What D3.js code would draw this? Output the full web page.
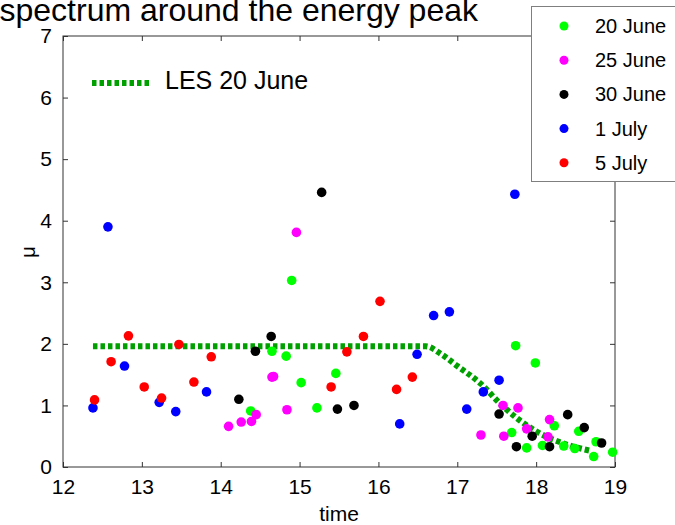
<!DOCTYPE html>
<html>
<head>
<meta charset="utf-8">
<script src="https://cdn.jsdelivr.net/npm/d3@7"></script>
<style>
  body { margin: 0; background: #fff; }
  svg { display: block; font-family: "Liberation Sans", Arial, sans-serif; }
</style>
</head>
<body>
<div id="chart"></div>
<script>
// series data: [time, mu]
const june20 = [[14.38,0.91],[14.65,1.88],[14.83,1.80],[14.90,3.03],[15.02,1.37],[15.22,0.96],[15.46,1.52],
  [17.69,0.56],[17.74,1.97],[17.88,0.31],[17.99,1.69],[18.08,0.35],[18.23,0.67],[18.35,0.34],[18.49,0.30],
  [18.54,0.58],[18.73,0.17],[18.76,0.41],[18.97,0.24]];
const june25 = [[14.10,0.66],[14.26,0.73],[14.39,0.74],[14.45,0.85],[14.65,1.46],[14.67,1.47],[14.84,0.93],
  [14.96,3.81],[17.30,0.52],[17.58,1.00],[17.59,0.50],[17.77,0.96],[17.88,0.62],[18.15,0.49],[18.17,0.77]];
const june30 = [[14.23,1.10],[14.44,1.88],[14.64,2.12],[15.28,4.46],[15.48,0.94],[15.69,1.00],[17.53,0.86],
  [17.75,0.33],[17.95,0.50],[18.17,0.33],[18.40,0.85],[18.61,0.64],[18.83,0.39]];
const july1 = [[12.38,0.96],[12.57,3.90],[12.78,1.64],[13.22,1.05],[13.43,0.90],[13.82,1.22],[16.27,0.70],
  [16.49,1.83],[16.70,2.46],[16.90,2.52],[17.12,0.94],[17.33,1.22],[17.53,1.41],[17.73,4.43]];
const july5 = [[12.40,1.09],[12.61,1.71],[12.83,2.13],[13.03,1.30],[13.25,1.12],[13.47,1.99],[13.66,1.38],
  [13.88,1.79],[15.40,1.30],[15.60,1.87],[15.81,2.12],[16.02,2.69],[16.23,1.26],[16.43,1.46]];

// LES curve
const lesTime = [12.38, 16.6, 16.8, 17.0, 17.3, 17.55, 17.75, 18.0, 18.4, 18.7];
const lesMu   = [1.96, 1.96, 1.83, 1.64, 1.35, 1.02, 0.80, 0.58, 0.36, 0.26];

const seriesNames = ["20 June", "25 June", "30 June", "1 July", "5 July"];
const seriesData = [june20, june25, june30, july1, july5];
const seriesColors = ["#00ff00", "#ff00ff", "#000000", "#0000ff", "#ff0000"];

const xTicks = [12, 13, 14, 15, 16, 17, 18, 19];
const yTicks = [0, 1, 2, 3, 4, 5, 6, 7];

const width = 675, height = 525;
const plotLeft = 63, plotRight = 615, plotTop = 36, plotBottom = 467;

const svg = d3.select("#chart").append("svg")
    .attr("width", width)
    .attr("height", height);

const x = d3.scaleLinear().domain([12, 19]).range([plotLeft, plotRight]);
const y = d3.scaleLinear().domain([0, 7]).range([plotBottom, plotTop]);

const axisColor = "#333";
const intFmt = d3.format("d");

// box + inward ticks on all four sides
function styleAxis(g) {
    g.select(".domain").remove();
    g.selectAll(".tick line").attr("stroke", axisColor);
    g.selectAll(".tick text").attr("fill", "#000").attr("font-size", 21);
}

svg.append("g")
    .attr("transform", `translate(0,${plotBottom})`)
    .call(d3.axisBottom(x).tickValues(xTicks).tickFormat(intFmt).tickSizeInner(-5).tickSizeOuter(0).tickPadding(12))
    .call(styleAxis);

svg.append("g")
    .attr("transform", `translate(0,${plotTop})`)
    .call(d3.axisTop(x).tickValues(xTicks).tickSizeInner(-5).tickSizeOuter(0).tickFormat(""))
    .call(styleAxis);

svg.append("g")
    .attr("transform", `translate(${plotLeft},0)`)
    .call(d3.axisLeft(y).tickValues(yTicks).tickFormat(intFmt).tickSizeInner(-5).tickSizeOuter(0).tickPadding(11))
    .call(styleAxis);

svg.append("g")
    .attr("transform", `translate(${plotRight},0)`)
    .call(d3.axisRight(y).tickValues(yTicks).tickSizeInner(-5).tickSizeOuter(0).tickFormat(""))
    .call(styleAxis);

svg.append("rect")
    .attr("x", plotLeft).attr("y", plotTop)
    .attr("width", plotRight - plotLeft).attr("height", plotBottom - plotTop)
    .attr("fill", "none")
    .attr("stroke", axisColor)
    .attr("stroke-width", 1);

// LES line
const les = lesTime.map((t, i) => [t, lesMu[i]]);
svg.append("path")
    .datum(les)
    .attr("fill", "none")
    .attr("stroke", "#00a000")
    .attr("stroke-width", 6)
    .attr("stroke-dasharray", "4.5,3")
    .attr("d", d3.line().x(d => x(d[0])).y(d => y(d[1])).curve(d3.curveMonotoneX));

// points
seriesData.forEach((data, i) => {
    svg.append("g").selectAll("circle")
        .data(data)
        .enter()
        .append("circle")
        .attr("cx", d => x(d[0]))
        .attr("cy", d => y(d[1]))
        .attr("r", 4.8)
        .attr("fill", seriesColors[i]);
});

// labels
svg.append("text")
    .attr("x", 478).attr("y", 21)
    .attr("text-anchor", "end")
    .attr("font-size", 32)
    .text("spectrum around the energy peak");

svg.append("text")
    .attr("x", (plotLeft + plotRight) / 2).attr("y", 521)
    .attr("text-anchor", "middle")
    .attr("font-size", 21)
    .text("time");

svg.append("text")
    .attr("transform", "translate(35,252) rotate(-90)")
    .attr("text-anchor", "middle")
    .attr("font-size", 20)
    .text("μ");

// LES legend
svg.append("line")
    .attr("x1", 92).attr("x2", 150)
    .attr("y1", 83).attr("y2", 83)
    .attr("stroke", "#00a000")
    .attr("stroke-width", 6)
    .attr("stroke-dasharray", "4.5,3");

svg.append("text")
    .attr("x", 165).attr("y", 89)
    .attr("font-size", 25)
    .text("LES 20 June");

// points legend
const legend = svg.append("g");
legend.append("rect")
    .attr("x", 531.5).attr("y", 6.5)
    .attr("width", 160).attr("height", 175)
    .attr("fill", "#fff")
    .attr("stroke", "#7f7f7f");

seriesNames.forEach((name, i) => {
    const cy = 26 + i * 34.2;
    legend.append("circle")
        .attr("cx", 564).attr("cy", cy)
        .attr("r", 4.5)
        .attr("fill", seriesColors[i]);
    legend.append("text")
        .attr("x", 595).attr("y", cy)
        .attr("dy", "0.35em")
        .attr("font-size", 20)
        .text(name);
});
</script>
</body>
</html>
